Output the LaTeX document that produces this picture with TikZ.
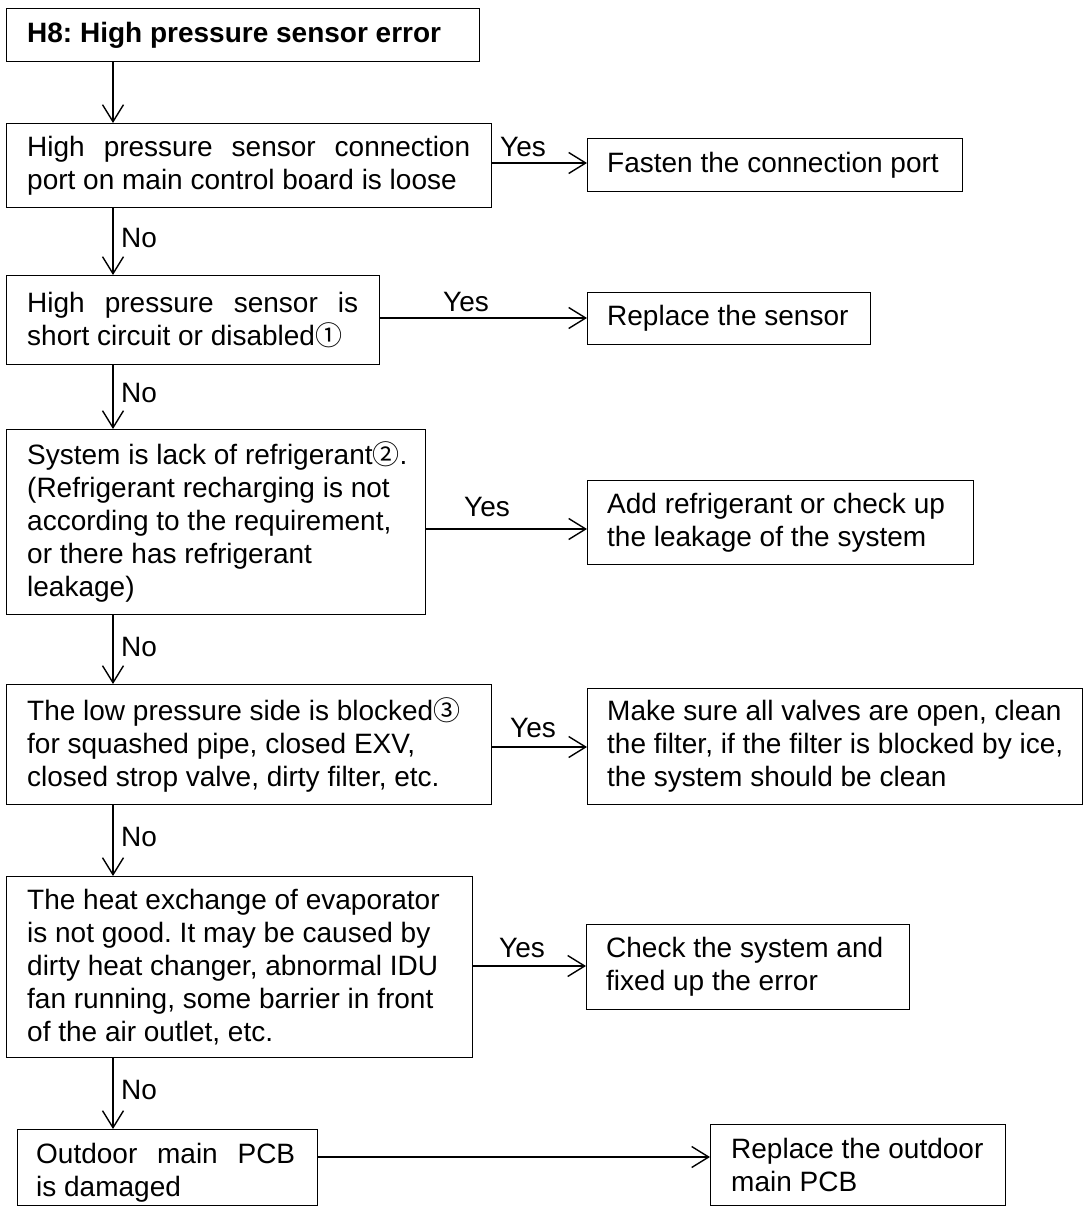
\documentclass[tikz,border=0pt]{standalone}
\usepackage{fontspec}
\setmainfont{Liberation Sans}
\newfontfamily\symf{Noto Sans CJK SC}
\usetikzlibrary{arrows.meta,calc}
\frenchspacing
\tikzset{
 box/.style={draw=black, line width=1.4pt, anchor=north west, inner sep=0pt},
 txt/.style={anchor=west, align=left, inner sep=0pt, font=\fontsize{28}{33}\selectfont\frenchspacing},
 lab/.style={inner sep=0pt, font=\fontsize{28}{33}\selectfont},
 arr/.style={draw=black, line width=1.4pt, -{Straight Barb[length=17pt,width=21pt]}},
}
\newcommand{\circd}[1]{{\symf\fontsize{27}{33}\selectfont #1}}
\begin{document}
\begin{tikzpicture}[x=1pt,y=1pt]
\useasboundingbox[fill=white] (0,0) rectangle (1084,-1209);
% boxes
\node[box, minimum width=473pt, minimum height=53pt] (b0) at (6,-8) {};
\node[box, minimum width=485pt, minimum height=84pt] (b1) at (6,-123) {};
\node[box, minimum width=375pt, minimum height=53pt] (r1) at (587,-138) {};
\node[box, minimum width=373pt, minimum height=89pt] (b2) at (6,-275) {};
\node[box, minimum width=283pt, minimum height=52pt] (r2) at (587,-292) {};
\node[box, minimum width=419pt, minimum height=185pt] (b3) at (6,-429) {};
\node[box, minimum width=386pt, minimum height=84pt] (r3) at (587,-480) {};
\node[box, minimum width=485pt, minimum height=120pt] (b4) at (6,-684) {};
\node[box, minimum width=495pt, minimum height=116pt] (r4) at (587,-688) {};
\node[box, minimum width=466pt, minimum height=181pt] (b5) at (6,-876) {};
\node[box, minimum width=323pt, minimum height=85pt] (r5) at (586,-924) {};
\node[box, minimum width=300pt, minimum height=76pt] (b6) at (17,-1129) {};
\node[box, minimum width=295pt, minimum height=81pt] (r6) at (710,-1124) {};
% texts
\node[txt, font=\bfseries\fontsize{28}{33}\selectfont\frenchspacing] (t0) at ([xshift=21pt]b0.west) {H8: High pressure sensor error};
\node[txt] (t1) at ([xshift=21pt]b1.west) {\makebox[443pt][s]{High pressure sensor connection}\\port on main control board is loose};
\node[txt] (u1) at ([xshift=20pt]r1.west) {Fasten the connection port};
\node[txt] (t2) at ([xshift=21pt]b2.west) {\makebox[331pt][s]{High pressure sensor is}\\short circuit or disabled\circd{①}};
\node[txt] (u2) at ([xshift=20pt]r2.west) {Replace the sensor};
\node[txt] (t3) at ([xshift=21pt]b3.west) {System is lack of refrigerant\circd{②}.\\(Refrigerant recharging is not\\according to the requirement,\\or there has refrigerant\\leakage)};
\node[txt] (u3) at ([xshift=20pt]r3.west) {Add refrigerant or check up\\the leakage of the system};
\node[txt] (t4) at ([xshift=21pt]b4.west) {The low pressure side is blocked\circd{③}\\for squashed pipe, closed EXV,\\closed strop valve, dirty filter, etc.};
\node[txt] (u4) at ([xshift=20pt]r4.west) {Make sure all valves are open, clean\\the filter, if the filter is blocked by ice,\\the system should be clean};
\node[txt] (t5) at ([xshift=21pt]b5.west) {The heat exchange of evaporator\\is not good. It may be caused by\\dirty heat changer, abnormal IDU\\fan running, some barrier in front\\of the air outlet, etc.};
\node[txt] (u5) at ([xshift=20pt]r5.west) {Check the system and\\fixed up the error};
\node[txt] (t6) at ([xshift=19pt,yshift=-5pt]b6.west) {\makebox[259pt][s]{Outdoor main PCB}\\is damaged};
\node[txt] (u6) at ([xshift=21pt]r6.west) {Replace the outdoor\\main PCB};
% vertical connectors
\coordinate (vx) at (113,0);
\draw[arr] (b0.south -| vx) -- (b1.north -| vx);
\draw[arr] (b1.south -| vx) -- (b2.north -| vx);
\draw[arr] (b2.south -| vx) -- (b3.north -| vx);
\draw[arr] (b3.south -| vx) -- (b4.north -| vx);
\draw[arr] (b4.south -| vx) -- (b5.north -| vx);
\draw[arr] (b5.south -| vx) -- (b6.north -| vx);
% horizontal connectors
\coordinate (h1) at (0,-163);
\coordinate (h2) at (0,-318);
\coordinate (h3) at (0,-529);
\coordinate (h4) at (0,-747);
\coordinate (h5) at (0,-966);
\coordinate (h6) at (0,-1157);
\draw[arr] (b1.east |- h1) -- (r1.west |- h1);
\draw[arr] (b2.east |- h2) -- (r2.west |- h2);
\draw[arr] (b3.east |- h3) -- (r3.west |- h3);
\draw[arr] (b4.east |- h4) -- (r4.west |- h4);
\draw[arr] (b5.east |- h5) -- (r5.west |- h5);
\draw[arr] (b6.east |- h6) -- (r6.west |- h6);
% labels
\node[lab] (y1) at (523,-147) {Yes};
\node[lab] (y2) at (466,-302) {Yes};
\node[lab] (y3) at (487,-507) {Yes};
\node[lab] (y4) at (533,-728) {Yes};
\node[lab] (y5) at (522,-948) {Yes};
\node[lab, anchor=west] (n1) at (121,-238) {No};
\node[lab, anchor=west] (n2) at (121,-393) {No};
\node[lab, anchor=west] (n3) at (121,-647) {No};
\node[lab, anchor=west] (n4) at (121,-837) {No};
\node[lab, anchor=west] (n5) at (121,-1090) {No};
\end{tikzpicture}
\end{document}
